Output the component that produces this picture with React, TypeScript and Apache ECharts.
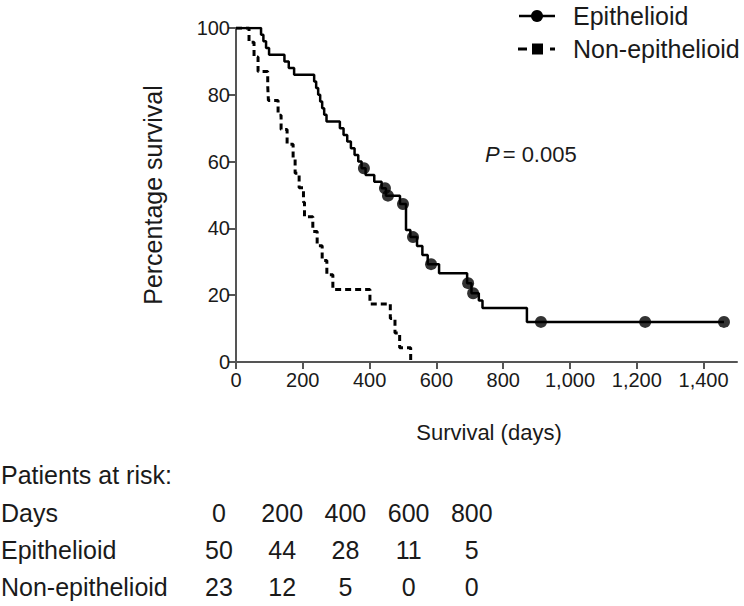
import React, { useEffect, useRef } from 'react';
import * as echarts from 'echarts';

const xTicks = [0, 200, 400, 600, 800, 1000, 1200, 1400];

const epiDays = [0, 75, 82, 90, 99, 145, 158, 174, 234, 240, 246, 252, 258, 264, 271, 311, 322, 333, 344, 355, 366, 376, 388, 414, 436, 449, 491, 509, 522, 542, 558, 574, 608, 692, 705, 727, 738, 871, 1461];
const epiSurv = [100, 98, 96, 94, 92, 90, 88, 86, 84, 82, 80, 78, 76, 74, 72, 70, 68, 66, 64, 62, 60, 58, 56, 54, 52, 49.8, 47.3, 39.5, 37.4, 34.7, 32, 29.3, 26.6, 23.6, 20.6, 18.4, 16.2, 12, 12];

const epiCensorDays = [383, 446, 455, 500, 530, 584, 695, 710, 913, 1225, 1461];
const epiCensorSurv = [58, 52, 49.8, 47.3, 37.4, 29.3, 23.6, 20.6, 12, 12, 12];

const nonDays = [0, 39, 54, 66, 95, 97, 126, 135, 153, 171, 177, 189, 202, 205, 230, 243, 258, 272, 290, 401, 462, 476, 490, 523];
const nonSurv = [100, 95.7, 91.3, 87.0, 82.6, 78.3, 73.9, 69.6, 65.2, 60.9, 56.5, 52.2, 47.8, 43.5, 39.1, 34.8, 30.4, 26.1, 21.7, 17.4, 13.0, 8.7, 4.3, 0];

const riskDays = ['0', '200', '400', '600', '800'];
const riskEpi = ['50', '44', '28', '11', '5'];
const riskNon = ['23', '12', '5', '0', '0'];
const riskRowLabels = ['Days', 'Epithelioid', 'Non-epithelioid'];

const FONT = '"Liberation Sans", Arial, Helvetica, sans-serif';
const TXT = '#1a1a1a';
const AX = '#555555';

export default function App() {
  const ref = useRef<HTMLDivElement>(null);
  useEffect(() => {
    if (!ref.current) return;
    const chart = echarts.init(ref.current, null, { renderer: 'svg' });

    const table: any[] = [];
    table.push({
      type: 'text', x: 1, y: 475,
      style: { text: 'Patients at risk:', font: `25px ${FONT}`, fill: TXT, verticalAlign: 'middle' },
    });
    const rows = [riskDays, riskEpi, riskNon];
    const rowY = [513, 550, 587];
    rows.forEach((vals, r) => {
      table.push({
        type: 'text', x: 1, y: rowY[r],
        style: { text: riskRowLabels[r], font: `25px ${FONT}`, fill: TXT, verticalAlign: 'middle', align: 'left' },
      });
      vals.forEach((v, c) => {
        table.push({
          type: 'text', x: 219 + c * 63.2, y: rowY[r],
          style: { text: v, font: `25px ${FONT}`, fill: TXT, verticalAlign: 'middle', align: 'center' },
        });
      });
    });

    const legend: any[] = [
      { type: 'line', shape: { x1: 519, y1: 16, x2: 555, y2: 16 }, style: { stroke: '#000', lineWidth: 2.5 } },
      { type: 'circle', shape: { cx: 537, cy: 16, r: 6 }, style: { fill: '#000' } },
      { type: 'text', x: 573, y: 16, style: { text: 'Epithelioid', font: `25px ${FONT}`, fill: TXT, verticalAlign: 'middle' } },
      { type: 'line', shape: { x1: 518, y1: 49, x2: 527, y2: 49 }, style: { stroke: '#000', lineWidth: 3 } },
      { type: 'rect', shape: { x: 532, y: 43.5, width: 11, height: 11 }, style: { fill: '#000' } },
      { type: 'line', shape: { x1: 550, y1: 49, x2: 555, y2: 49 }, style: { stroke: '#000', lineWidth: 3 } },
      { type: 'text', x: 573, y: 49, style: { text: 'Non-epithelioid', font: `25px ${FONT}`, fill: TXT, verticalAlign: 'middle' } },
    ];

    const option: any = {
      animation: false,
      backgroundColor: '#ffffff',
      grid: { left: 236, top: 28, width: 501, height: 334 },
      xAxis: {
        type: 'value', min: 0, max: 1500, interval: 200,
        splitLine: { show: false },
        axisLine: { show: true, onZero: false, lineStyle: { color: AX, width: 2 } },
        axisTick: { show: true, length: 7, customValues: xTicks, lineStyle: { color: AX, width: 2 } },
        axisLabel: {
          customValues: xTicks, margin: 8, fontSize: 20, fontFamily: FONT, color: TXT,
          formatter: (v: number) => v.toLocaleString('en-US'),
        },
      },
      yAxis: {
        type: 'value', min: 0, max: 100, interval: 20,
        splitLine: { show: false },
        axisLine: { show: true, lineStyle: { color: AX, width: 2 } },
        axisTick: { show: true, length: 8, lineStyle: { color: AX, width: 2 } },
        axisLabel: { margin: 6, fontSize: 20, fontFamily: FONT, color: TXT },
      },
      series: [
        {
          type: 'line', step: 'end', silent: true, showSymbol: false,
          data: nonDays.map((d, i) => [d, nonSurv[i]]),
          lineStyle: { color: '#000', width: 3, type: [6, 4] },
          z: 2,
        },
        {
          type: 'line', step: 'end', silent: true, showSymbol: false,
          data: epiDays.map((d, i) => [d, epiSurv[i]]),
          lineStyle: { color: '#000', width: 2.5 },
          z: 3,
        },
        {
          type: 'scatter', silent: true, symbol: 'circle', symbolSize: 12,
          data: epiCensorDays.map((d, i) => [d, epiCensorSurv[i]]),
          itemStyle: { color: '#000' },
          z: 4,
        },
      ],
      graphic: [
        {
          type: 'text', x: 153, y: 195, rotation: Math.PI / 2,
          style: { text: 'Percentage survival', font: `25px ${FONT}`, fill: TXT, align: 'center', verticalAlign: 'middle' },
        },
        {
          type: 'text', x: 489, y: 432,
          style: { text: 'Survival (days)', font: `22px ${FONT}`, fill: TXT, align: 'center', verticalAlign: 'middle' },
        },
        {
          type: 'text', x: 485, y: 154,
          style: {
            text: '{i|P}{n|= 0.005}',
            verticalAlign: 'middle',
            rich: {
              i: { fontStyle: 'italic', fontSize: 22, fontFamily: FONT, fill: TXT, padding: [0, 3, 0, 0] },
              n: { fontSize: 22, fontFamily: FONT, fill: TXT },
            },
          },
        },
        ...legend,
        ...table,
      ],
    };
    chart.setOption(option);
    return () => chart.dispose();
  }, []);
  return (
    <div
      ref={ref}
      style={{ position: 'fixed', left: 0, top: 0, width: 744, height: 606, background: '#fff' }}
    />
  );
}
